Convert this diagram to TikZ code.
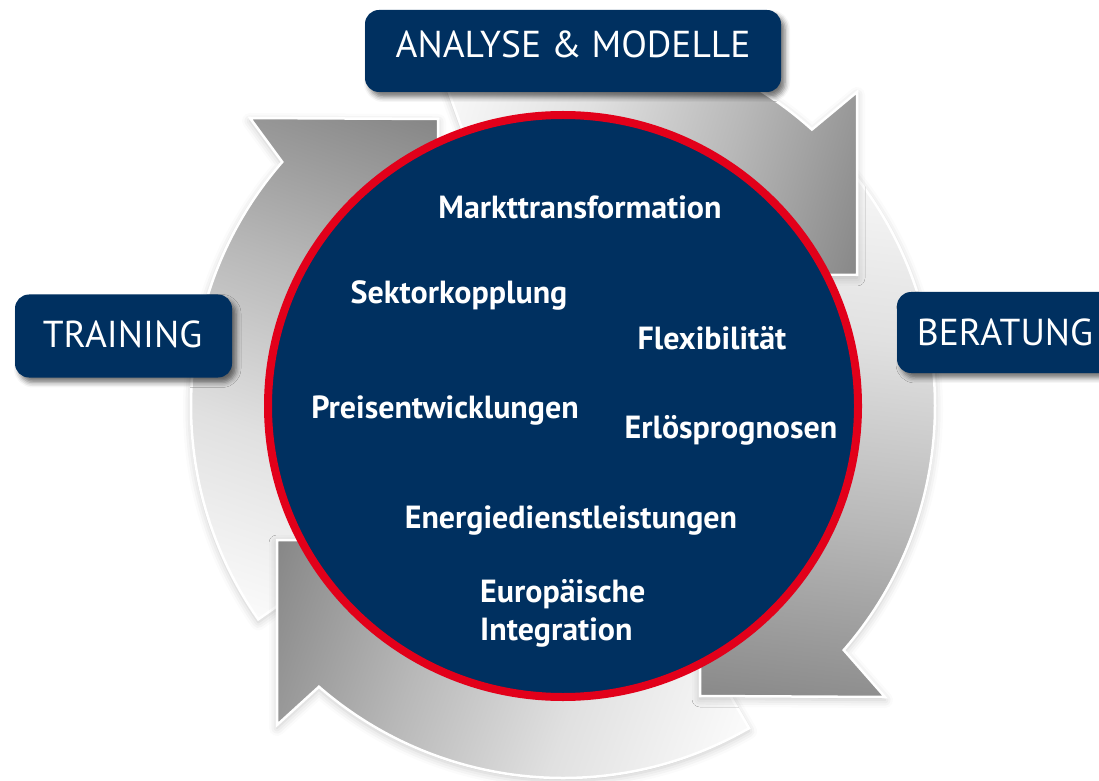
\documentclass[tikz,border=0pt]{standalone}
\usepackage{fontspec}
\setmainfont{PT Sans}
\usetikzlibrary{shadows.blur,calc}
\definecolor{navy}{HTML}{003060}
\definecolor{cred}{HTML}{E2001A}
\pgfdeclareverticalshading{segshade}{100bp}{color(0bp)=(white); color(22bp)=(black!2); color(40bp)=(black!12); color(58bp)=(black!28); color(74bp)=(black!44); color(100bp)=(black!72)}
\begin{document}
\begin{tikzpicture}[x=1pt,y=1pt,
  seg/.style={draw=white, line width=2.5pt, line join=miter, shading=segshade,
    blur shadow={shadow xshift=0pt, shadow yshift=-3pt, shadow blur radius=8pt, shadow opacity=22}},
  boxstyle/.style={fill=navy, rounded corners=14pt, inner sep=0pt,
    blur shadow={shadow xshift=4pt, shadow yshift=-5pt, shadow blur radius=5pt, shadow opacity=55}},
  boxtext/.style={text=white, font=\fontsize{37.5}{42}\selectfont, anchor=base, inner sep=0pt},
  topic/.style={text=white, font=\fontsize{32}{36}\selectfont\bfseries, anchor=base, inner sep=0pt},
]
\useasboundingbox (0,0) rectangle (1099,780);
\coordinate (C) at (563,374);
% ring segments (order matters for overlaps)
\path[seg, shading angle=-19]
  (C) -- ($(C)+(215:372)$) arc[start angle=215, end angle=139, radius=372]
  -- (250,662) -- (438,661) -- (438,500) -- cycle;
\path[seg, shading angle=70]
  (C) -- ($(C)+(300:372)$) arc[start angle=300, end angle=229, radius=372]
  -- (277,55) -- (277,240) -- (420,240) -- cycle;
\path[seg, shading angle=173]
  (C) -- ($(C)+(40:372)$) arc[start angle=40, end angle=-41, radius=372]
  -- (885,83) -- (700,84) -- (700,250) -- cycle;
\path[seg, shading angle=-107]
  (C) -- ($(C)+(110:372)$) arc[start angle=110, end angle=48, radius=372]
  -- (857,688) -- (857,505) -- (760,505) -- cycle;
% central disc
\draw[cred, line width=8pt, fill=navy] (C) ellipse [x radius=295, y radius=291];
% topics
\node[topic] (t1) at (580,561) {Markttransformation};
\node[topic] (t2) at (459,476) {Sektorkopplung};
\node[topic] (t3) at (712,431) {Flexibilität};
\node[topic] (t4) at (445,362) {Preisentwicklungen};
\node[topic] (t5) at (731,342) {Erlösprognosen};
\node[topic] (t6) at (571,252) {Energiedienstleistungen};
\node[topic, anchor=base west] (t7) at (480,178) {Europäische};
\node[topic, anchor=base west] (t8) at (480,140) {Integration};
% boxes
\node[boxstyle, minimum width=416pt, minimum height=82pt] (am) at (573,729) {};
\node[boxtext] (amt) at (573,722) {ANALYSE \& MODELLE};
\node[boxstyle, minimum width=217pt, minimum height=83pt] (tr) at (123.5,444) {};
\node[boxtext] (trt) at (122.5,432) {TRAINING};
\node[boxstyle, minimum width=223pt, minimum height=81pt] (be) at (1008.5,447.5) {};
\node[boxtext] (bet) at (1005,435) {BERATUNG};
\end{tikzpicture}
\end{document}
